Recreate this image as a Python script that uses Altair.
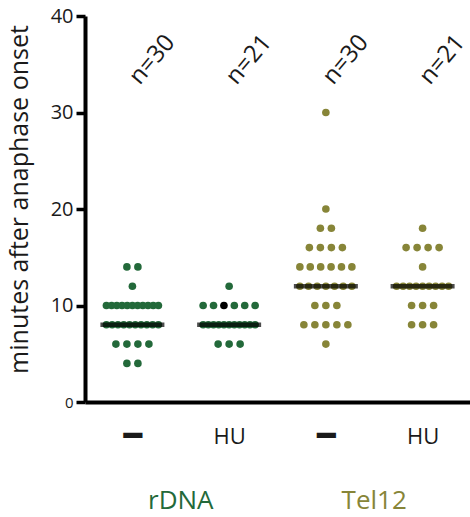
import json
import altair as alt
import numpy as np
import pandas as pd

# ---------------- data ----------------
group_index = [0, 1, 2, 3]
treatment_labels = ["━", "HU", "━", "HU"]
group_strain = ["rDNA", "rDNA", "Tel12", "Tel12"]

rdna_ctrl_minutes = [14, 12, 10, 8, 6, 4]
rdna_ctrl_counts = [2, 1, 11, 10, 4, 2]

rdna_hu_minutes = [12, 10, 8, 6]
rdna_hu_counts = [1, 6, 11, 3]

tel12_ctrl_minutes = [30, 20, 18, 16, 14, 12, 10, 8, 6]
tel12_ctrl_counts = [1, 1, 2, 4, 6, 7, 3, 5, 1]

tel12_hu_minutes = [18, 16, 14, 12, 10, 8]
tel12_hu_counts = [1, 4, 1, 9, 3, 3]

# one highlighted (black) cell in rDNA HU: (group, minutes, position in row)
black_dot = (1, 10, 2)

strain_names = ["rDNA", "Tel12"]
strain_colors = ["#23693a", "#878538"]

y_ticks = [0, 10, 20, 30, 40]

# ---------------- layout constants ----------------
W, H = 385, 386
X_DOMAIN = [-0.49, 3.49]
PX_PER_UNIT = W / (X_DOMAIN[1] - X_DOMAIN[0])
MAX_SPACING = 11.0
MAX_ROW = 52.0

group_minutes = [rdna_ctrl_minutes, rdna_hu_minutes, tel12_ctrl_minutes, tel12_hu_minutes]
group_counts = [rdna_ctrl_counts, rdna_hu_counts, tel12_ctrl_counts, tel12_hu_counts]
color_of = dict(zip(strain_names, strain_colors))

dot_rows = []
summary_rows = []
for gi, mins, cnts in zip(group_index, group_minutes, group_counts):
    col = color_of[group_strain[gi]]
    expanded = []
    for m, k in zip(mins, cnts):
        expanded += [m] * k
        sp = min(MAX_SPACING, MAX_ROW / (k - 1)) if k > 1 else 0.0
        for j in range(k):
            off_px = (j - (k - 1) / 2) * sp
            c = "#000000" if (gi, m, j) == black_dot else col
            dot_rows.append({"x": gi + off_px / PX_PER_UNIT, "minutes": m, "color": c})
    summary_rows.append({"g": gi, "median": float(np.median(expanded)),
                         "label": f"n={len(expanded)}"})

dots_df = pd.DataFrame(dot_rows)
summary_df = pd.DataFrame(summary_rows)
strain_df = pd.DataFrame({
    "strain": strain_names,
    "g": [np.mean([g for g, s in zip(group_index, group_strain) if s == name]) for name in strain_names],
    "color": strain_colors,
})

label_expr = f"{json.dumps(treatment_labels, ensure_ascii=False)}[datum.value]"
is_dash = "datum.value % 2 == 0"

x_scale = alt.Scale(domain=X_DOMAIN, nice=False, zero=False)
y_scale = alt.Scale(domain=[0, 40], nice=False)

x_axis = alt.Axis(
    values=group_index, labelExpr=label_expr, title=None, grid=False,
    ticks=False, tickSize=0, labelPadding=34, labelBaseline="middle",
    labelFontSize={"condition": {"test": is_dash, "value": 31}, "value": 22},
    labelFont={"condition": {"test": is_dash, "value": "DejaVu Sans"}, "value": "Open Sans"},
    domainWidth=4, domainColor="black", labelColor="#1a1a1a",
)
y_axis = alt.Axis(
    values=y_ticks, title="minutes after anaphase onset", grid=False,
    tickSize=9, tickWidth=3.5, tickColor="black", labelPadding=3,
    labelFontSize={"condition": {"test": "datum.value == 0", "value": 15}, "value": 20},
    domainWidth=4, domainColor="black", labelColor="#1a1a1a",
    titleFontSize=25, titleFontWeight="normal", titleColor="#1a1a1a",
    titleAngle=270, titleAlign="center", titleBaseline="bottom",
    titleX=-53, titleY=183,
)

dots = alt.Chart(dots_df).mark_circle(size=58, opacity=1).encode(
    x=alt.X("x:Q", scale=x_scale, axis=x_axis),
    y=alt.Y("minutes:Q", scale=y_scale, axis=y_axis),
    color=alt.Color("color:N", scale=None),
)

medians = alt.Chart(summary_df).mark_tick(
    orient="horizontal", size=64, thickness=4.5, color="black"
).encode(
    x=alt.X("g:Q", scale=x_scale),
    y=alt.Y("median:Q", scale=y_scale),
)

n_labels = alt.Chart(summary_df).mark_text(
    angle=310, fontSize=24, color="#1a1a1a", align="center", baseline="middle",
    dx=12.9, dy=15.3,
).encode(
    x=alt.X("g:Q", scale=x_scale),
    y=alt.value(44),
    text="label:N",
)

strain_labels = alt.Chart(strain_df).mark_text(
    fontSize=26, align="center", baseline="middle"
).encode(
    x=alt.X("g:Q", scale=x_scale),
    y=alt.value(485),
    text="strain:N",
    color=alt.Color("color:N", scale=None),
)

chart = alt.layer(dots, medians, n_labels, strain_labels).properties(
    width=W, height=H,
    autosize=alt.AutoSizeParams(type="none"),
    padding={"left": 85, "top": 16, "right": 0, "bottom": 115},
).configure(font="Open Sans").configure_view(strokeWidth=0)

chart.save("out.html", embed_options={"renderer": "svg", "actions": False})
